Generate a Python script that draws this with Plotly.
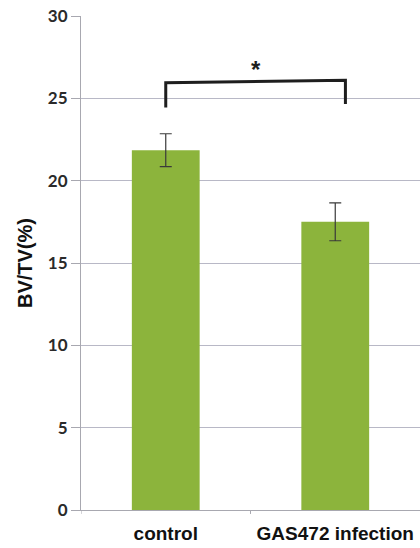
import plotly.graph_objects as go

# Bone volume fraction per group
groups = ["control", "GAS472 infection"]
bv_tv = [21.85, 17.5]
bv_tv_err = [1.0, 1.15]

# Significance bracket: leg bottoms, bracket top and star height (axis units)
bracket_x = [0, 1.06]
bracket_bottom = [24.45, 24.65]
bracket_top = [25.95, 26.1]
star_y = 26.75
star_text = "*"

y_title = "BV/TV(%)"
y_ticks = [0, 5, 10, 15, 20, 25, 30]

fig = go.Figure()
fig.add_trace(go.Bar(
    x=[0, 1],
    y=bv_tv,
    width=0.4,
    marker=dict(color="#8cb43c", line=dict(width=0)),
    error_y=dict(type="data", array=bv_tv_err, visible=True,
                 color="#3a3a3a", thickness=1.2, width=6),
    showlegend=False,
))

# bracket drawn as a polyline in data coordinates
fig.add_trace(go.Scatter(
    x=[bracket_x[0], bracket_x[0], bracket_x[1], bracket_x[1]],
    y=[bracket_bottom[0], bracket_top[0], bracket_top[1], bracket_bottom[1]],
    mode="lines",
    line=dict(color="#1e1e1e", width=3),
    showlegend=False, hoverinfo="skip",
))

fig.add_annotation(
    x=(bracket_x[0] + bracket_x[1]) / 2, y=star_y, text="<b>" + star_text + "</b>",
    showarrow=False, xref="x", yref="y",
    font=dict(family="Liberation Sans", size=24, color="#1e1e1e"),
)

# rotated y-axis title placed in the left margin
fig.add_annotation(
    x=-0.165, y=0.5, xref="paper", yref="paper",
    text="<b>" + y_title + "</b>", textangle=-90,
    showarrow=False, xanchor="center", yanchor="middle",
    font=dict(family="Liberation Sans", size=20, color="#111111"),
)

fig.update_layout(
    width=420, height=548,
    margin=dict(l=81, r=0, t=16, b=38),
    paper_bgcolor="white", plot_bgcolor="white",
    bargap=0.6,
)

fig.update_xaxes(
    range=[-0.5, 1.5],
    tickmode="array", tickvals=[0, 1], ticktext=groups,
    showgrid=False, zeroline=False,
    showline=True, linecolor="#a8a8b0", linewidth=1,
    ticks="",
    tickfont=dict(family="Liberation Sans", size=19, color="#111111", weight="bold"),
    ticklabelstandoff=6,
)
# category boundary ticks
for bx in [-0.5, 0.5]:
    fig.add_shape(type="line", xref="x", yref="paper",
                  x0=bx, x1=bx, y0=0, y1=-0.008,
                  line=dict(color="#a8a8b0", width=1))

fig.update_yaxes(
    range=[0, 30],
    tickmode="array", tickvals=y_ticks,
    showgrid=True, gridcolor="#b8b8c6", gridwidth=1,
    zeroline=False,
    showline=True, linecolor="#a8a8b0", linewidth=1,
    ticks="outside", ticklen=9, tickcolor="#a8a8b0",
    tickfont=dict(family="Lato", size=17, color="#2a2a2a", weight="bold"),
)

fig.write_html("out.html")
